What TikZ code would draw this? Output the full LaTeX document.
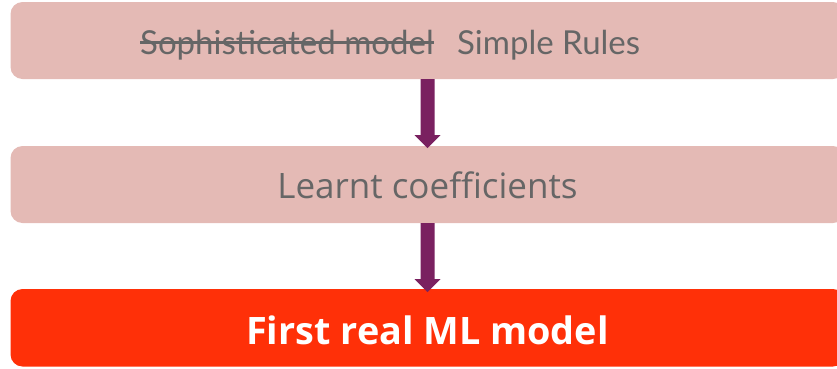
\documentclass[tikz,border=0pt]{standalone}
\usepackage{fontspec}
\setmainfont{Lato}
\newfontfamily\proxfont{Open Sans}
\usetikzlibrary{arrows.meta}
\definecolor{boxpink}{HTML}{E4BAB5}
\definecolor{boxred}{HTML}{FF3008}
\definecolor{arrowpurple}{HTML}{7A2160}
\definecolor{textgrey}{HTML}{666666}
\tikzset{
  stagebox/.style={fill=boxpink, rounded corners=12pt},
  finalbox/.style={fill=boxred, rounded corners=12pt},
  greytext/.style={text=textgrey, font=\fontsize{33}{36}\selectfont, inner sep=0pt, anchor=base},
  flowarrow/.style={draw=none, fill=arrowpurple},
}
\begin{document}
\begin{tikzpicture}[x=1pt,y=-1pt]
\useasboundingbox (0,0) rectangle (837,368);
\clip (0,0) rectangle (837,368);
\fill[stagebox] (10.5,2) rectangle (845,79);
\fill[stagebox] (10.5,146) rectangle (845,223);
\fill[finalbox] (10.5,289) rectangle (845,366.5);
\node[greytext, anchor=base west] (soph) at (140,54.5) {Sophisticated model};
\draw[textgrey, line width=3pt] (soph.west |- 0,42) -- (soph.east |- 0,42);
\node[greytext, anchor=base west] (simple) at (457,54.5) {Simple Rules};
\node[greytext, anchor=base, font=\proxfont\fontsize{35}{39}\selectfont] (learnt) at (427.5,198) {Learnt coefficients};
\node[text=white, font=\proxfont\bfseries\fontsize{37.8}{42}\selectfont, inner sep=0pt, anchor=base] (first) at (427.5,344) {First real ML model};
\coordinate (a1s) at (427.5,79);
\coordinate (a1e) at (427.5,148);
\coordinate (a2s) at (427.5,223);
\coordinate (a2e) at (427.5,292);
\fill[flowarrow] ([xshift=-7pt]a1s) -- ([xshift=-7pt,yshift=13pt]a1e) -- ([xshift=-13pt,yshift=13pt]a1e) -- (a1e) -- ([xshift=13pt,yshift=13pt]a1e) -- ([xshift=7pt,yshift=13pt]a1e) -- ([xshift=7pt]a1s) -- cycle;
\fill[flowarrow] ([xshift=-7pt]a2s) -- ([xshift=-7pt,yshift=13pt]a2e) -- ([xshift=-13pt,yshift=13pt]a2e) -- (a2e) -- ([xshift=13pt,yshift=13pt]a2e) -- ([xshift=7pt,yshift=13pt]a2e) -- ([xshift=7pt]a2s) -- cycle;
\end{tikzpicture}
\end{document}
